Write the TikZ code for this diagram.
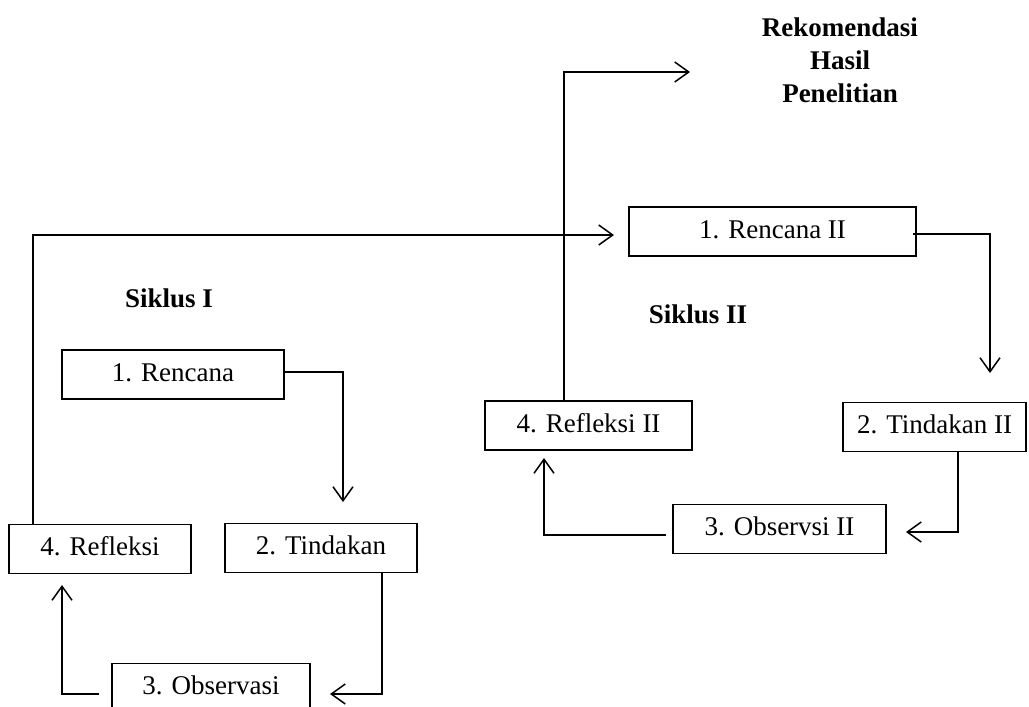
\documentclass[tikz,border=0pt]{standalone}
\usepackage{fontspec}
\setmainfont{Liberation Serif}
\usetikzlibrary{arrows.meta,calc}
\begin{document}
\begin{tikzpicture}[x=0.5pt,y=-0.5pt,
  every node/.style={font=\fontsize{13.5}{16.5}\selectfont, inner sep=0pt},
  stepbox/.style={draw, line width=0.8pt, minimum height=24.5pt, text height=9.5pt, text depth=3pt},
  conn/.style={line width=0.75pt},
  arr/.style={conn, -{Straight Barb[length=7pt,width=10pt,line width=0.75pt]}},
  lbl/.style={font=\bfseries\fontsize{13.5}{16.5}\selectfont, align=center}]
\useasboundingbox (0,0) rectangle (1029,707);
\clip (0,0) rectangle (1029,707);
% cycle I
\node[stepbox, minimum width=111pt] (R1) at (173,374.5) {1. Rencana};
\node[stepbox, minimum width=96pt] (T1) at (321,548) {2. Tindakan};
\node[stepbox, minimum width=99pt] (O1) at (211,688) {3. Observasi};
\node[stepbox, minimum width=91pt] (F1) at (100,549) {4. Refleksi};
% cycle II
\node[stepbox, minimum width=143.5pt] (R2) at (772.5,231.5) {1. Rencana II};
\node[stepbox, minimum width=91.5pt] (T2) at (934.5,427) {2. Tindakan II};
\node[stepbox, minimum width=106.5pt] (O2) at (779.5,529) {3. Observsi II};
\node[stepbox, minimum width=103.5pt] (F2) at (588.5,425.5) {4. Refleksi II};
% labels
\node[lbl] (rek) at (840,60) {Rekomendasi\\Hasil\\Penelitian};
\node[lbl] (s1) at (169,298) {Siklus I};
\node[lbl] (s2) at (698,314) {Siklus II};
% connector end points
\coordinate (aT1) at (343,502);
\coordinate (aO1) at (330,694);
\coordinate (aF1) at (62,585);
\coordinate (aR2) at (614,235);
\coordinate (aT2) at (990,373);
\coordinate (aO2) at (906,532);
\coordinate (aF2) at (544,458);
\coordinate (aRek) at (690,72);
% connectors
\draw[arr] (R1.east |- 0,372) -| (aT1);
\draw[arr] (T1.south -| 382,0) |- (aO1);
\draw[arr] ($(O1.west |- 0,694)+(-12,0)$) -| (aF1);
\draw[arr] (F1.north -| 33,0) |- (aR2);
\draw[arr] ($(R2.east |- 0,234)+(-4,0)$) -| (aT2);
\draw[arr] (T2.south -| 958,0) |- (aO2);
\draw[arr] ($(O2.west |- 0,535)+(-6,0)$) -| (aF2);
\draw[arr] (F2.north -| 564,0) |- (aRek);
\end{tikzpicture}
\end{document}
